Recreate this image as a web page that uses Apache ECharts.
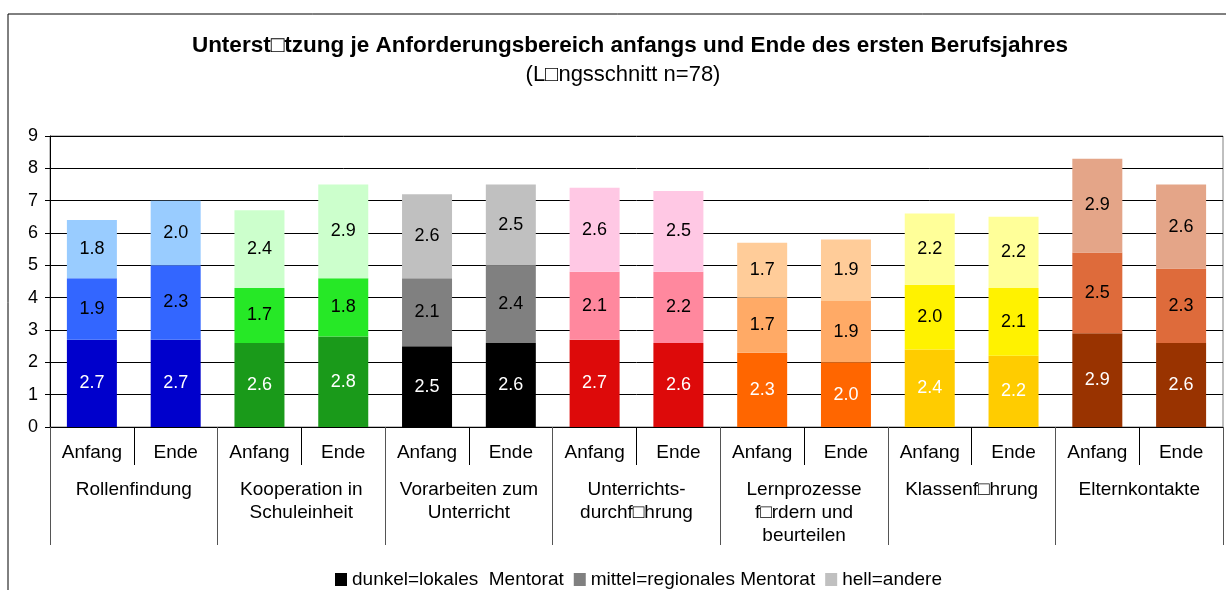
<!DOCTYPE html>
<html>
<head>
<meta charset="utf-8">
<script src="https://cdn.jsdelivr.net/npm/echarts@6/dist/echarts.min.js"></script>
<style>
  html, body { margin: 0; padding: 0; background: #fff; }
  #main { width: 1226px; height: 590px; }
</style>
</head>
<body>
<div id="main"></div>
<script>
// Kategorien
var phasen = ['Anfang', 'Ende', 'Anfang', 'Ende', 'Anfang', 'Ende', 'Anfang', 'Ende',
              'Anfang', 'Ende', 'Anfang', 'Ende', 'Anfang', 'Ende'];
var bereiche = ['Rollenfindung', 'Kooperation in\nSchuleinheit', 'Vorarbeiten zum\nUnterricht',
                'Unterrichts-\ndurchf\u25A1hrung', 'Lernprozesse\nf\u25A1rdern und\nbeurteilen',
                'Klassenf\u25A1hrung', 'Elternkontakte'];

// Werte (dunkel / mittel / hell)
var dunkel = [2.7, 2.7, 2.6, 2.8, 2.5, 2.6, 2.7, 2.6, 2.3, 2.0, 2.4, 2.2, 2.9, 2.6];
var mittel = [1.9, 2.3, 1.7, 1.8, 2.1, 2.4, 2.1, 2.2, 1.7, 1.9, 2.0, 2.1, 2.5, 2.3];
var hell   = [1.8, 2.0, 2.4, 2.9, 2.6, 2.5, 2.6, 2.5, 1.7, 1.9, 2.2, 2.2, 2.9, 2.6];

// Farben je Bereich
var farbenDunkel = ['#0000CC', '#1A9A1A', '#000000', '#DD0A0A', '#FF6600', '#FFCC00', '#993300'];
var farbenMittel = ['#3366FF', '#26E826', '#808080', '#FF889E', '#FFAA66', '#FFF200', '#DE6B3B'];
var farbenHell   = ['#99CCFF', '#CCFFCC', '#C0C0C0', '#FFC8E4', '#FFCC99', '#FFFF99', '#E4A588'];

var schrift = 'Liberation Sans';
var chart = echarts.init(document.getElementById('main'));

function serie(name, werte, farben, legendFarbe, labelFarbe) {
  return {
    name: name,
    type: 'bar',
    stack: 'a',
    barWidth: 50,
    itemStyle: { color: legendFarbe },
    label: {
      show: true,
      position: 'inside',
      color: labelFarbe,
      fontSize: 18,
      fontFamily: schrift,
      formatter: function (p) { return p.value.toFixed(1); }
    },
    data: werte.map(function (v, i) {
      return { value: v, itemStyle: { color: farben[Math.floor(i / 2)] } };
    })
  };
}

var option = {
  animation: false,
  backgroundColor: '#fff',
  textStyle: { fontFamily: schrift },
  graphic: [{
    type: 'rect',
    shape: { x: 8, y: 14, width: 1400, height: 800 },
    style: { fill: 'none', stroke: '#000', lineWidth: 1 },
    silent: true
  }, {
    type: 'text',
    x: 630, y: 46,
    style: {
      text: 'Unterst\u25A1tzung je Anforderungsbereich anfangs und Ende des ersten Berufsjahres',
      font: 'bold 22.5px "Liberation Sans"', fill: '#000',
      textAlign: 'center', textVerticalAlign: 'middle'
    }
  }, {
    type: 'text',
    x: 623, y: 75,
    style: {
      text: '(L\u25A1ngsschnitt n=78)',
      font: '22px "Liberation Sans"', fill: '#000',
      textAlign: 'center', textVerticalAlign: 'middle'
    }
  }],
  legend: {
    left: 330,
    top: 565,
    icon: 'rect',
    itemWidth: 12,
    itemHeight: 13,
    itemGap: 10,
    textStyle: { fontSize: 19, color: '#000', fontFamily: schrift },
    data: ['dunkel=lokales  Mentorat', 'mittel=regionales Mentorat', 'hell=andere']
  },
  grid: {
    left: 50, right: 3, top: 136, bottom: 163,
    show: true, borderColor: '#808080', borderWidth: 1
  },
  xAxis: [{
    type: 'category',
    data: phasen,
    position: 'bottom',
    axisLine: { show: true, lineStyle: { color: '#000', width: 1 } },
    axisTick: { show: true, interval: 0, length: 38, lineStyle: { color: '#000' } },
    axisLabel: { interval: 0, margin: 16, fontSize: 19, color: '#000' }
  }, {
    type: 'category',
    data: bereiche,
    position: 'bottom',
    axisLine: { show: false },
    axisTick: { show: true, interval: 0, length: 118, lineStyle: { color: '#555' } },
    axisLabel: { interval: 0, margin: 51, fontSize: 19, lineHeight: 23, color: '#000' }
  }],
  yAxis: {
    type: 'value',
    min: 0, max: 9, interval: 1,
    axisLine: { show: true, lineStyle: { color: '#000' } },
    axisTick: { show: true, length: 5, lineStyle: { color: '#000' } },
    axisLabel: { fontSize: 18, color: '#000', margin: 12 },
    splitLine: { lineStyle: { color: '#000', width: 1 } }
  },
  series: [
    serie('dunkel=lokales  Mentorat', dunkel, farbenDunkel, '#000000', '#fff'),
    serie('mittel=regionales Mentorat', mittel, farbenMittel, '#808080', '#000'),
    serie('hell=andere', hell, farbenHell, '#C0C0C0', '#000')
  ]
};

chart.setOption(option);
</script>
</body>
</html>
